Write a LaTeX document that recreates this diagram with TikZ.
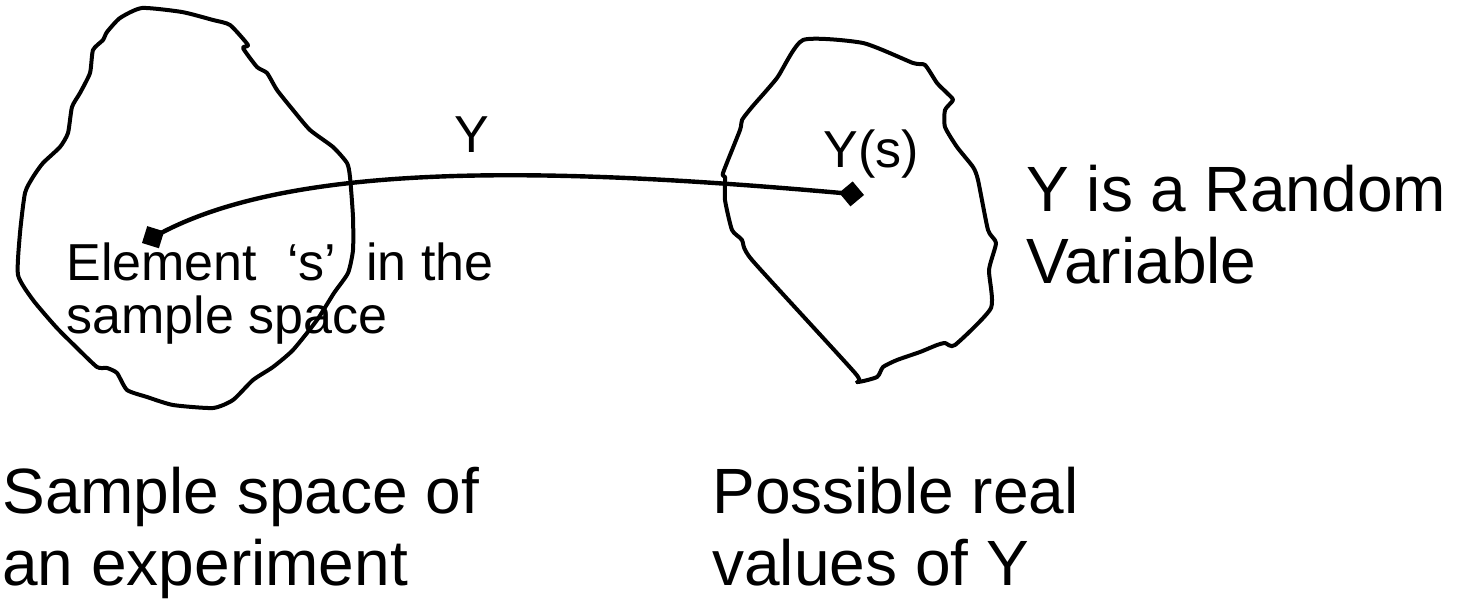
\documentclass[tikz,border=0pt]{standalone}
\usepackage{fontspec}
\setmainfont{Liberation Sans}
\usetikzlibrary{arrows.meta}

\begin{document}
\begin{tikzpicture}[x=0.5pt, y=-0.5pt,
  blob/.style={line width=2pt, line join=round},
  mapto/.style={line width=2.2pt, {Diamond[length=12.5pt,width=12.5pt]}-{Diamond[length=12.5pt,width=12.5pt]}},
  big/.style={anchor=base west, inner sep=0pt, align=left, font=\fontsize{32}{36}\selectfont},
  small/.style={anchor=base west, inner sep=0pt, align=left, font=\fontsize{26}{26.5}\selectfont},
  lbl/.style={anchor=base, inner sep=0pt, font=\fontsize{26}{30}\selectfont}]
  \useasboundingbox (0,0) rectangle (1477,599);
  % sample space and the set of values
  \draw[blob] plot[smooth cycle, tension=0.35] coordinates {
    (142,8) (182,12) (213,20) (230,25) (248,45) (243,48) (257,67) (267,73)
    (277,90) (293,110) (310,130) (333,147) (347,163) (350,177) (353,217)
    (353,250) (348,273) (334,293) (317,320) (293,350) (273,367) (253,380)
    (233,400) (213,408) (173,405) (147,397) (127,390) (117,373) (107,368)
    (97,367) (76,347) (56,327) (33,300) (18,275) (20,233) (25,193) (33,177)
    (43,163) (60,147) (68,133) (72,107) (80,93) (90,73) (93,50) (103,40)
    (107,32) (120,18)};
  \draw[blob] plot[smooth cycle, tension=0.35] coordinates {
    (803,40) (863,43) (913,63) (925,65) (937,83) (947,93) (953,100) (945,110)
    (945,127) (957,147) (973,167) (978,180) (988,230) (996,243) (989,270)
    (991,308) (955,345) (945,343) (937,345) (920,352) (897,360) (883,367)
    (877,377) (857,382) (855,373) (752,260) (742,240) (732,230) (725,200)
    (725,177) (723,173) (740,130) (742,120) (752,107) (777,78)};
  % the mapping
  \coordinate (s) at (142,243);
  \coordinate (ys) at (864,195);
  \draw[mapto] (s) .. controls (300,160) and (560,168) .. (ys);
  \node[lbl] (ylabel) at (472,152) {Y};
  \node[lbl, anchor=base west] (yslabel) at (823,168) {Y(s)};
  \node[small] (elem) at (66,333) {Element\hspace{0.3em} ‘s’\hspace{0.3em} in the\\sample space};
  \node[big] (rv) at (1026,283) {Y is a Random\\Variable};
  \node[big] (omega) at (2,585) {Sample space of\\an experiment};
  \node[big] (vals) at (712,585) {Possible real\\values of Y};
\end{tikzpicture}
\end{document}
